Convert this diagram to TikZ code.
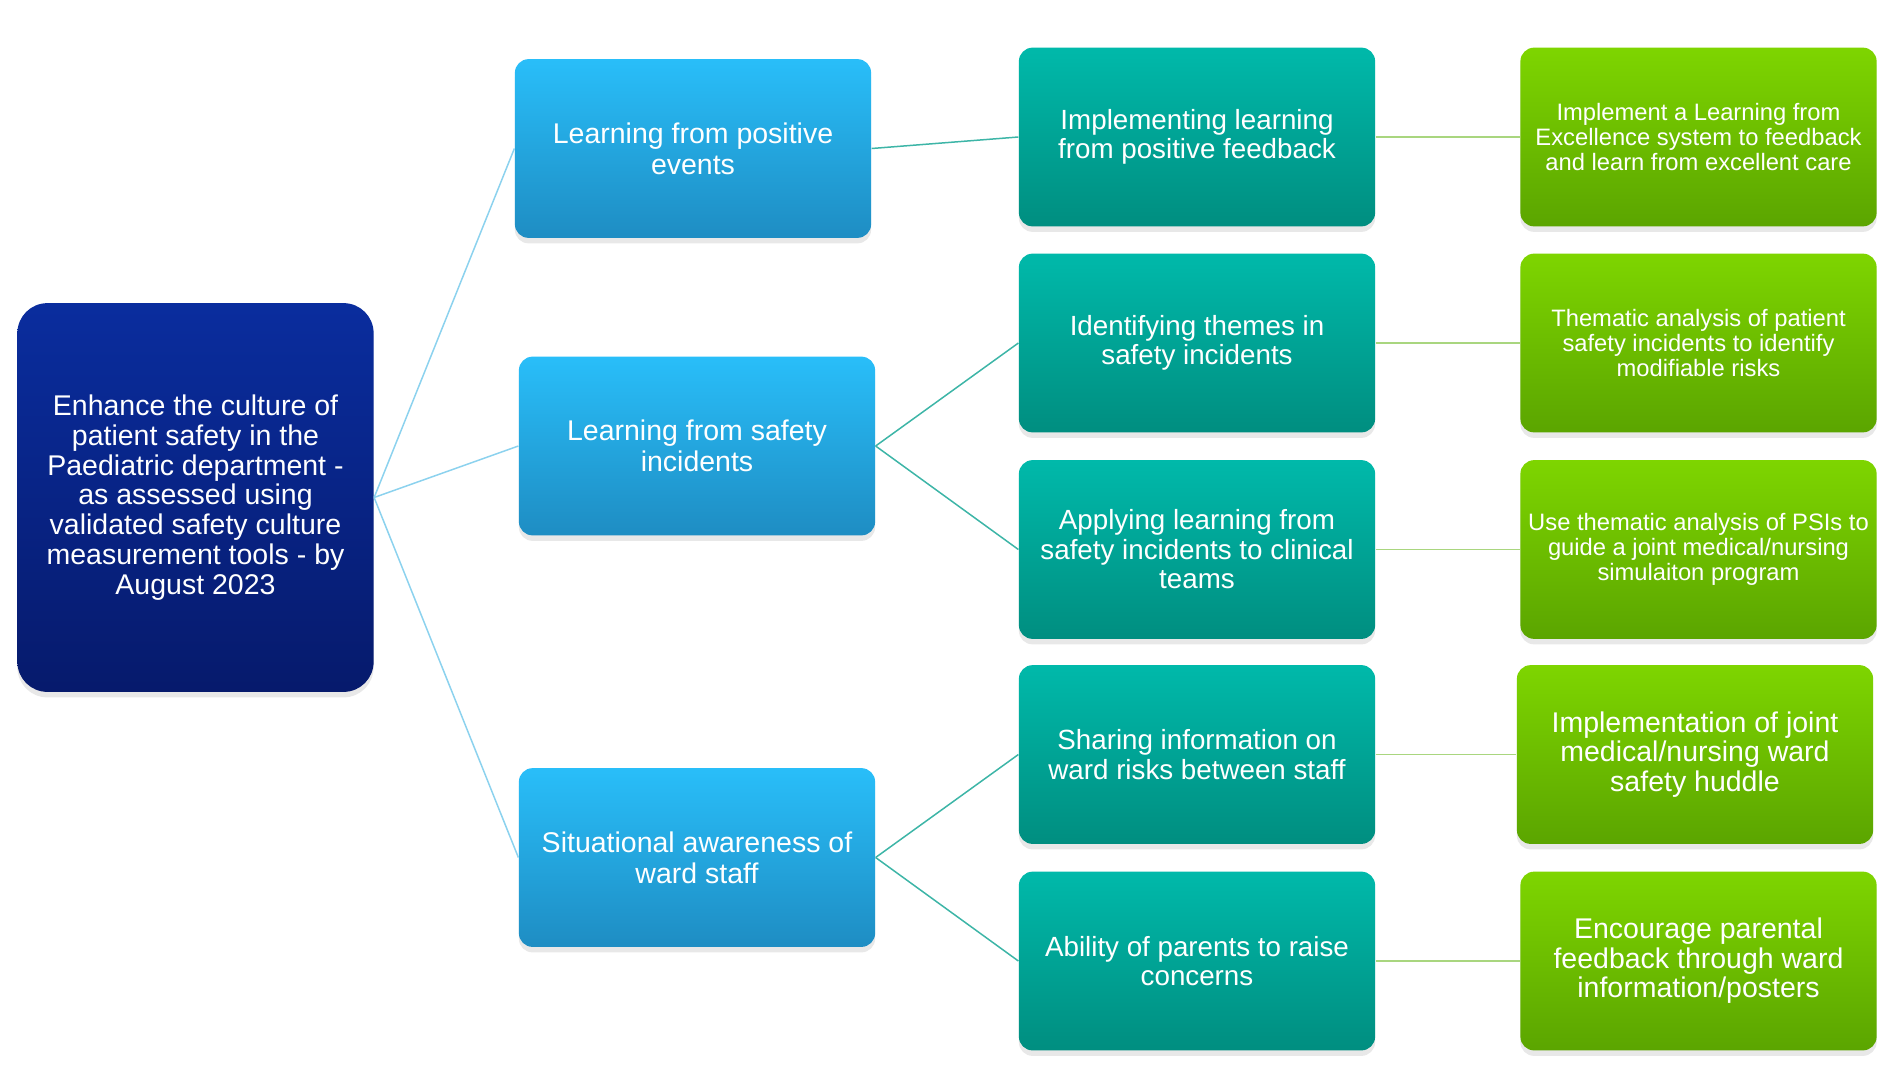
\documentclass[tikz,border=0pt]{standalone}
\usepackage{fontspec}
\setmainfont{Liberation Sans}
\usetikzlibrary{shadows}

\definecolor{navytop}{HTML}{0A2D9E}
\definecolor{navybot}{HTML}{061A6C}
\definecolor{skytop}{HTML}{29BEF9}
\definecolor{skybot}{HTML}{1E8DC3}
\definecolor{tealtop}{HTML}{00B9AA}
\definecolor{tealbot}{HTML}{008E80}
\definecolor{limetop}{HTML}{7ED500}
\definecolor{limebot}{HTML}{5BA500}
\definecolor{skyline}{HTML}{8CD2EE}
\definecolor{tealline}{HTML}{3DB5A7}
\definecolor{limeline}{HTML}{A9D67F}

\tikzset{
	box/.style={rounded corners=5.5pt, text=white, align=center, inner sep=2pt,
		minimum width=142.5pt, minimum height=71.5pt,
		drop shadow={opacity=0.18, shadow xshift=0pt, shadow yshift=-2.2pt}},
	goalbox/.style={box, rounded corners=12pt, minimum height=155.5pt,
		top color=navytop, bottom color=navybot,
		font=\fontsize{11.4}{11.9}\selectfont},
	primbox/.style={box, top color=skytop, bottom color=skybot,
		font=\fontsize{11.4}{12.4}\selectfont},
	secbox/.style={box, top color=tealtop, bottom color=tealbot,
		font=\fontsize{11.1}{11.8}\selectfont},
	ideabox/.style={box, top color=limetop, bottom color=limebot,
		font=\fontsize{9.5}{10}\selectfont},
	bigidea/.style={ideabox, font=\fontsize{11.4}{11.8}\selectfont},
	link/.style={line width=0.6pt}
}

\begin{document}
\begin{tikzpicture}[x=0.4pt,y=-0.4pt]
		\useasboundingbox (0,0) rectangle (1887,1081);
		
		% aim
		\node[goalbox] (aim) at (195.5,497.5) {Enhance the culture of\\patient safety in the\\Paediatric department -\\as assessed using\\validated safety culture\\measurement tools - by\\August 2023};
		
		% primary drivers
		\node[primbox] (p1) at (693,148.5) {Learning from positive\\events};
		\node[primbox] (p2) at (697,446) {Learning from safety\\incidents};
		\node[primbox] (p3) at (697,857.5) {Situational awareness of\\ward staff};
		
		% secondary drivers
		\node[secbox] (s1) at (1197,137) {Implementing learning\\from positive feedback};
		\node[secbox] (s2) at (1197,343) {Identifying themes in\\safety incidents};
		\node[secbox] (s3) at (1197,549.5) {Applying learning from\\safety incidents to clinical\\teams};
		\node[secbox] (s4) at (1197,754.5) {Sharing information on\\ward risks between staff};
		\node[secbox] (s5) at (1197,961) {Ability of parents to raise\\concerns};
		
		% change ideas
		\node[ideabox] (c1) at (1698.5,137) {Implement a Learning from\\Excellence system to feedback\\and learn from excellent care};
		\node[ideabox] (c2) at (1698.5,343) {Thematic analysis of patient\\safety incidents to identify\\modifiable risks};
		\node[ideabox] (c3) at (1698.5,549.5) {Use thematic analysis of PSIs to\\guide a joint medical/nursing\\simulaiton program};
		\node[bigidea] (c4) at (1695,754.5) {Implementation of joint\\medical/nursing ward\\safety huddle};
		\node[bigidea] (c5) at (1698.5,961) {Encourage parental\\feedback through ward\\information/posters};
		
		% connectors
		\foreach \p in {p1,p2,p3}
			\draw[link, skyline] (aim.east) -- (\p.west);
		\draw[link, tealline] (p1.east) -- (s1.west);
		\draw[link, tealline] (p2.east) -- (s2.west);
		\draw[link, tealline] (p2.east) -- (s3.west);
		\draw[link, tealline] (p3.east) -- (s4.west);
		\draw[link, tealline] (p3.east) -- (s5.west);
		\foreach \i in {1,...,5}
			\draw[link, limeline] (s\i.east) -- (c\i.west);
	\end{tikzpicture}
\end{document}
